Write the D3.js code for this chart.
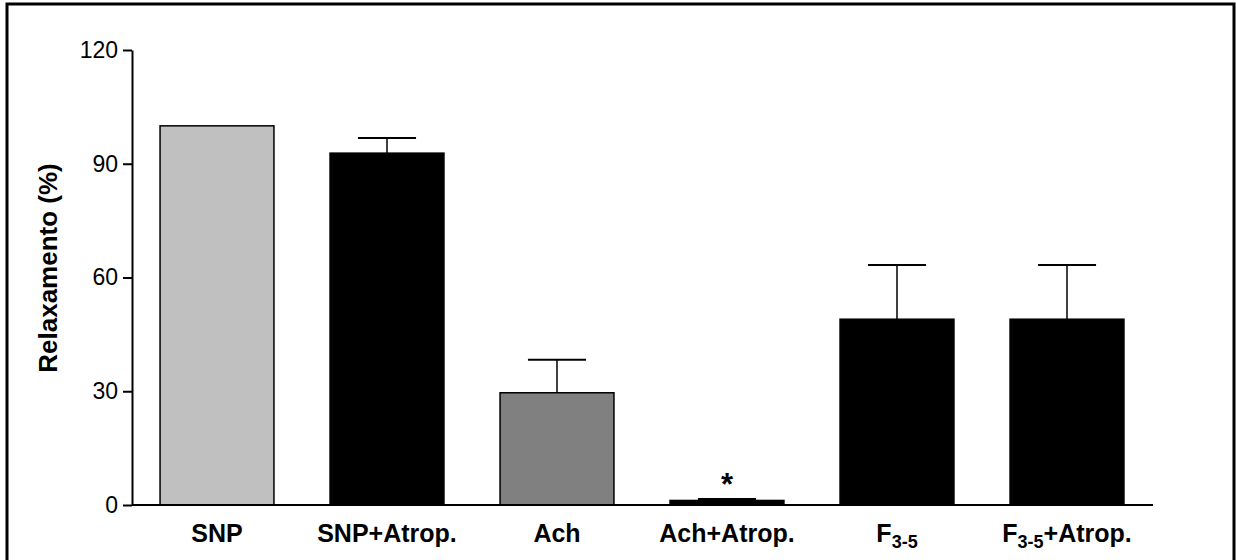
<!DOCTYPE html>
<html>
<head>
<meta charset="utf-8">
<script src="https://cdn.jsdelivr.net/npm/d3@7"></script>
<style>
  html, body { margin: 0; padding: 0; background: #fff; }
  svg { display: block; }
  text { font-family: "Liberation Sans", Arial, sans-serif; fill: #000; }
</style>
</head>
<body>
<svg id="chart" width="1236" height="560"></svg>
<script>
// Groups (main text, optional subscript, trailing text)
const categories = ["SNP", "SNP+Atrop.", "Ach", "Ach+Atrop.", "F3-5", "F3-5+Atrop."];
const labelParts = [
  ["SNP", null, ""],
  ["SNP+Atrop.", null, ""],
  ["Ach", null, ""],
  ["Ach+Atrop.", null, ""],
  ["F", "3-5", ""],
  ["F", "3-5", "+Atrop."]
];
// Mean relaxation (%) and upper error (SEM)
const means = [100, 92.8, 29.6, 1.2, 49.0, 49.0];
const errors = [0, 4.0, 8.7, 0.4, 14.3, 14.3];
const fills = ["#c0c0c0", "#000000", "#808080", "#000000", "#000000", "#000000"];
const significant = [false, false, false, true, false, false];
const yTicks = [0, 30, 60, 90, 120];

const svg = d3.select("#chart");

// outer frame
svg.append("rect")
  .attr("x", 7).attr("y", 4)
  .attr("width", 1227).attr("height", 600)
  .attr("fill", "none").attr("stroke", "#000").attr("stroke-width", 3);

const x0 = 132, x1 = 1152, yTop = 50, yBot = 505;

const x = d3.scaleBand()
  .domain(categories)
  .range([x0, x1])
  .paddingInner(0.33)
  .paddingOuter(0.165);

const y = d3.scaleLinear().domain([0, 120]).range([yBot, yTop]);

const g = svg.append("g");

// bars
g.selectAll("rect.bar")
  .data(categories)
  .join("rect")
  .attr("class", "bar")
  .attr("x", d => x(d))
  .attr("y", (d, i) => y(means[i]))
  .attr("width", x.bandwidth())
  .attr("height", (d, i) => y(0) - y(means[i]))
  .attr("fill", (d, i) => fills[i])
  .attr("stroke", "#000")
  .attr("stroke-width", 1.5);

// error bars (upper only)
const capHalf = x.bandwidth() * 0.255;
categories.forEach((c, i) => {
  if (errors[i] <= 0) return;
  const cx = x(c) + x.bandwidth() / 2;
  g.append("line")
    .attr("x1", cx).attr("x2", cx)
    .attr("y1", y(means[i])).attr("y2", y(means[i] + errors[i]))
    .attr("stroke", "#000").attr("stroke-width", 1.5);
  g.append("line")
    .attr("x1", cx - capHalf).attr("x2", cx + capHalf)
    .attr("y1", y(means[i] + errors[i])).attr("y2", y(means[i] + errors[i]))
    .attr("stroke", "#000").attr("stroke-width", 2);
});

// significance marks
categories.forEach((c, i) => {
  if (!significant[i]) return;
  g.append("text")
    .attr("x", x(c) + x.bandwidth() / 2)
    .attr("y", y(means[i] + errors[i]) - 4)
    .attr("text-anchor", "middle")
    .attr("font-size", 31)
    .attr("font-weight", "bold")
    .text("*");
});

// y axis
const yAxis = d3.axisLeft(y).tickValues(yTicks).tickSize(9).tickPadding(5).tickSizeOuter(0);
const ya = svg.append("g").attr("transform", `translate(${x0},0)`).call(yAxis);
ya.select(".domain").attr("stroke", "#000").attr("stroke-width", 2);
ya.selectAll(".tick line").attr("stroke", "#000").attr("stroke-width", 2);
ya.selectAll(".tick text")
  .attr("font-size", 23)
  .attr("font-family", "Liberation Sans, Arial, sans-serif")
  .attr("fill", "#000");

// x axis baseline
const xAxis = d3.axisBottom(x).tickSize(0).tickSizeOuter(0).tickFormat("");
const xa = svg.append("g").attr("transform", `translate(0,${yBot})`).call(xAxis);
xa.select(".domain").attr("stroke", "#000").attr("stroke-width", 2)
  .attr("d", `M${x0},0H${x1 + 1}`);

// x tick labels with subscripts
categories.forEach((c, i) => {
  const [main, sub, tail] = labelParts[i];
  const t = svg.append("text")
    .attr("x", x(c) + x.bandwidth() / 2)
    .attr("y", 542)
    .attr("text-anchor", "middle")
    .attr("font-size", 25)
    .attr("font-weight", "bold");
  t.append("tspan").text(main);
  if (sub) {
    t.append("tspan").attr("font-size", 18).attr("dy", 6).text(sub);
    if (tail) t.append("tspan").attr("dy", -6).text(tail);
  }
});

// y axis title
svg.append("text")
  .attr("transform", `translate(57,268) rotate(-90)`)
  .attr("text-anchor", "middle")
  .attr("font-size", 26)
  .attr("font-weight", "bold")
  .text("Relaxamento (%)");
</script>
</body>
</html>
